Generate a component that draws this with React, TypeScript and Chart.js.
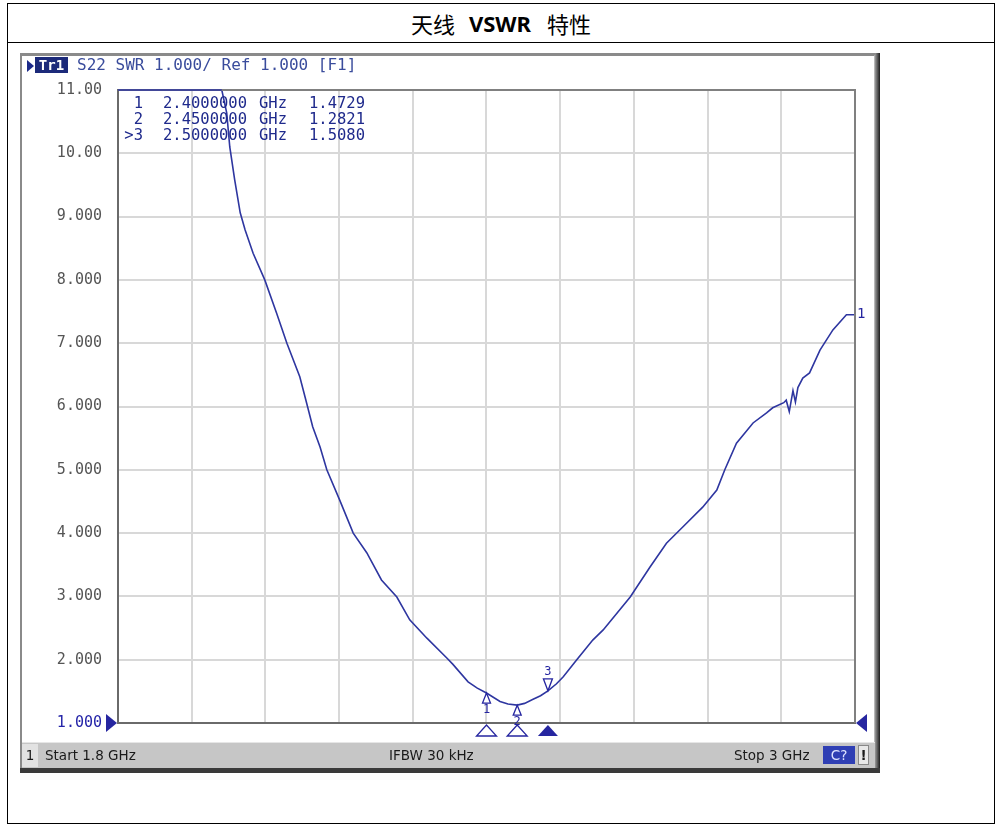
import { useEffect, useRef } from 'react'
import { Chart, registerables } from 'chart.js'

Chart.register(...registerables)

// S22 SWR trace (values above 11 are pinned at the top edge)
const freqGHz = [
  1.8, 1.9, 1.969, 1.977, 1.982, 1.99, 1.999, 2.007, 2.02, 2.039, 2.058, 2.075, 2.096, 2.107,
  2.117, 2.129, 2.14, 2.161, 2.183, 2.205, 2.229, 2.254, 2.275, 2.303, 2.335, 2.345, 2.37, 2.385,
  2.4, 2.422, 2.435, 2.45, 2.462, 2.475, 2.488, 2.5, 2.514, 2.525, 2.547, 2.573, 2.59, 2.634,
  2.666, 2.693, 2.72, 2.752, 2.775, 2.788, 2.807, 2.834, 2.856, 2.866, 2.884, 2.888, 2.893,
  2.899, 2.903, 2.907, 2.915, 2.926, 2.943, 2.964, 2.986, 3.0,
]
const swr = [
  11, 11, 11, 10.64, 10.1, 9.58, 9.06, 8.79, 8.42, 8.0, 7.48, 7.0, 6.47, 6.06,
  5.68, 5.36, 5.0, 4.52, 4.0, 3.69, 3.26, 2.99, 2.63, 2.34, 2.03, 1.93, 1.65, 1.55,
  1.4729, 1.34, 1.3, 1.2821, 1.31, 1.37, 1.43, 1.508, 1.62, 1.73, 2.0, 2.31, 2.47, 2.99,
  3.46, 3.84, 4.1, 4.41, 4.68, 5.0, 5.42, 5.74, 5.9, 5.98, 6.06, 6.1, 5.92,
  6.25, 6.07, 6.3, 6.45, 6.53, 6.89, 7.21, 7.45, 7.45,
]

const markerIds = ['1', '2', '3']
const markerFreqs = [2.4, 2.45, 2.5]
const markerSwr = [1.4729, 1.2821, 1.508]
const activeMarker = 2

const yTickValues = [1, 2, 3, 4, 5, 6, 7, 8, 9, 10, 11]
const yTickLabels = ['1.000', '2.000', '3.000', '4.000', '5.000', '6.000', '7.000', '8.000', '9.000', '10.00', '11.00']
const refValue = 1

const TRACE = '#2e36a0'
const MARK = '#2626a0'
const MONO = '"DejaVu Sans Mono", monospace'

const tri = (ctx: CanvasRenderingContext2D, x: number, y: number, w: number, h: number, dir: 'up' | 'down' | 'left' | 'right', fill: boolean) => {
  ctx.beginPath()
  if (dir === 'up') { ctx.moveTo(x, y); ctx.lineTo(x - w / 2, y + h); ctx.lineTo(x + w / 2, y + h) }
  if (dir === 'down') { ctx.moveTo(x, y); ctx.lineTo(x - w / 2, y - h); ctx.lineTo(x + w / 2, y - h) }
  if (dir === 'right') { ctx.moveTo(x, y); ctx.lineTo(x - w, y - h / 2); ctx.lineTo(x - w, y + h / 2) }
  if (dir === 'left') { ctx.moveTo(x, y); ctx.lineTo(x + w, y - h / 2); ctx.lineTo(x + w, y + h / 2) }
  ctx.closePath()
  if (fill) ctx.fill()
  else { ctx.fillStyle = '#fff'; ctx.fill(); ctx.stroke(); ctx.fillStyle = MARK }
}

const vnaOverlay = {
  id: 'vnaOverlay',
  afterDraw(chart: any) {
    const { ctx, chartArea: a, scales } = chart
    const xs = scales.x
    const ys = scales.y
    ctx.save()
    // top and right frame
    ctx.strokeStyle = '#808080'
    ctx.lineWidth = 2
    ctx.beginPath()
    ctx.moveTo(a.left, a.top); ctx.lineTo(a.right, a.top); ctx.lineTo(a.right, a.bottom)
    ctx.stroke()
    // pinned part of trace on top edge drawn again over frame
    ctx.strokeStyle = TRACE
    ctx.lineWidth = 1.6
    ctx.beginPath()
    let started = false
    freqGHz.forEach((f, i) => {
      if (swr[i] >= 11) {
        const px = xs.getPixelForValue(f)
        if (!started) { ctx.moveTo(px, a.top); started = true } else ctx.lineTo(px, a.top)
      }
    })
    ctx.stroke()

    ctx.fillStyle = MARK
    ctx.strokeStyle = MARK
    ctx.lineWidth = 1.3
    // reference level arrows
    const yr = ys.getPixelForValue(refValue)
    tri(ctx, a.left - 1, yr, 11, 18, 'right', true)
    tri(ctx, a.right + 1, yr, 11, 18, 'left', true)
    // trace number at right end
    ctx.font = `14px ${MONO}`
    ctx.textBaseline = 'middle'
    ctx.textAlign = 'left'
    ctx.fillText('1', a.right + 2, ys.getPixelForValue(swr[swr.length - 1]))

    // markers
    ctx.font = `12px ${MONO}`
    ctx.textAlign = 'center'
    markerFreqs.forEach((f, i) => {
      const px = xs.getPixelForValue(f)
      const py = ys.getPixelForValue(markerSwr[i])
      if (i === activeMarker) {
        tri(ctx, px, py, 9, 12, 'down', false)
        ctx.fillText(markerIds[i], px, py - 19)
        tri(ctx, px, a.bottom + 2, 20, 11, 'up', true)
      } else {
        tri(ctx, px, py, 8, 10, 'up', false)
        ctx.fillText(markerIds[i], px, py + 17)
        tri(ctx, px, a.bottom + 2, 20, 11, 'up', false)
      }
    })
    ctx.restore()
  },
}

function VswrChart() {
  const canvasRef = useRef<HTMLCanvasElement>(null)
  const chartRef = useRef<Chart | null>(null)

  useEffect(() => {
    if (!canvasRef.current) return
    chartRef.current?.destroy()

    chartRef.current = new Chart(canvasRef.current, {
      type: 'line',
      data: {
        datasets: [{
          data: freqGHz.map((f, i) => ({ x: f, y: swr[i] })),
          borderColor: TRACE,
          borderWidth: 1.6,
          pointRadius: 0,
          tension: 0,
          fill: false,
        }],
      },
      options: {
        animation: false,
        responsive: false,
        maintainAspectRatio: false,
        layout: { padding: { left: 0, top: 34, right: 17, bottom: 26 } },
        plugins: { legend: { display: false }, tooltip: { enabled: false } },
        scales: {
          x: {
            type: 'linear',
            min: 1.8,
            max: 3.0,
            ticks: { display: false, count: 11 },
            grid: { color: '#d8d8d8', lineWidth: 2, drawTicks: false },
            border: { color: '#6a6a6a', width: 2 },
            afterFit: (s: any) => { s.height = 0 },
          },
          y: {
            min: 1,
            max: 11,
            afterBuildTicks: (s: any) => { s.ticks = yTickValues.map((v) => ({ value: v })) },
            ticks: {
              padding: 16,
              font: { family: 'DejaVu Sans Mono', size: 15 },
              color: (c: any) => (c.tick && c.tick.value === refValue ? '#2424a8' : '#555555'),
              callback: (v: any) => yTickLabels[yTickValues.indexOf(Number(v))] ?? '',
            },
            grid: { color: '#d8d8d8', lineWidth: 2, drawTicks: false },
            border: { color: '#6a6a6a', width: 2 },
            afterFit: (s: any) => { s.width = 96 },
          },
        },
      },
      plugins: [vnaOverlay],
    })

    return () => { chartRef.current?.destroy() }
  }, [])

  return <canvas ref={canvasRef} width={850} height={693} style={{ position: 'absolute', left: 22, top: 56, width: 850, height: 693 }} />
}

const abs = (s: any) => ({ position: 'absolute' as const, ...s })

export default function App() {
  const rows = markerIds.map((id, i) => ({
    id: (i === activeMarker ? '>' : '') + id,
    f: markerFreqs[i].toFixed(7),
    v: markerSwr[i].toFixed(4),
  }))

  return (
    <div style={abs({ left: 0, top: 0, width: 1006, height: 835, background: '#fff', fontFamily: '"DejaVu Sans", sans-serif' })}>
      {/* table frame */}
      <div style={abs({ left: 7, top: 3, width: 988, height: 821, border: '1.5px solid #000', boxSizing: 'border-box' })} />
      <div style={abs({ left: 7, top: 41.5, width: 988, height: 1.5, background: '#000' })} />
      <div style={abs({ left: 7, top: 3, width: 988, height: 39, display: 'flex', alignItems: 'center', justifyContent: 'center', fontSize: 22, color: '#000' })}>
        <span style={{ fontFamily: '"Noto Sans CJK SC"' }}>天线</span>
        <span style={{ fontFamily: '"Noto Sans", sans-serif', fontWeight: 700, margin: '0 16px 0 14px' }}>VSWR</span>
        <span style={{ fontFamily: '"Noto Sans CJK SC"' }}>特性</span>
      </div>

      {/* analyzer screen */}
      <div style={abs({ left: 20, top: 53, width: 856, height: 718, background: '#fff', borderTop: '3px solid #8a8a8a', borderLeft: '2px solid #8a8a8a', borderRight: '2px solid #b8b8b8', boxSizing: 'border-box' })} />
      <div style={abs({ left: 875, top: 53, width: 5, height: 720, background: 'linear-gradient(90deg, #9a9a9a, #1a1a1a)' })} />
      <VswrChart />

      {/* header */}
      <div style={abs({ left: 27, top: 60, width: 0, height: 0, borderTop: '6px solid transparent', borderBottom: '6px solid transparent', borderLeft: '7px solid #1c2a8a' })} />
      <div style={abs({ left: 35, top: 57, width: 33, height: 16, background: '#1c2a7a', color: '#fff', font: `bold 14px ${MONO}`, lineHeight: '16px', textAlign: 'center' })}>Tr1</div>
      <div style={abs({ left: 77, top: 56, font: `16px ${MONO}`, lineHeight: '18px', color: '#3a4c9c', whiteSpace: 'pre' })}>S22 SWR 1.000/ Ref 1.000 [F1]</div>

      {/* marker table */}
      {rows.map((r, i) => (
        <div key={r.id} style={abs({ left: 0, top: 95 + i * 15.8, font: `15.5px ${MONO}`, lineHeight: '16px', color: '#1f2a8c', whiteSpace: 'pre' })}>
          <span style={abs({ left: 120, width: 23, textAlign: 'right' })}>{r.id}</span>
          <span style={abs({ left: 163 })}>{r.f}</span>
          <span style={abs({ left: 259 })}>GHz</span>
          <span style={abs({ left: 309 })}>{r.v}</span>
        </div>
      ))}

      {/* footer */}
      <div style={abs({ left: 22, top: 742, width: 853, height: 26, background: '#c6c6c6', borderTop: '1px solid #e6e6e6', boxSizing: 'border-box', fontSize: 13.5, color: '#1a1a1a', lineHeight: '25px' })}>
        <span style={abs({ left: 0, top: 1, width: 16, height: 23, background: '#e2e2e2', textAlign: 'center', lineHeight: '23px' })}>1</span>
        <span style={abs({ left: 23 })}>Start 1.8 GHz</span>
        <span style={abs({ left: 367 })}>IFBW 30 kHz</span>
        <span style={abs({ left: 712 })}>Stop 3 GHz</span>
        <span style={abs({ left: 801, top: 3, width: 32, height: 18, background: '#2f3fb4', color: '#dfe4ff', textAlign: 'center', lineHeight: '18px' })}>C?</span>
        <span style={abs({ left: 836, top: 2, width: 11, height: 20, background: '#e8e8e8', border: '1px solid #888', boxSizing: 'border-box', textAlign: 'center', lineHeight: '18px', fontWeight: 700 })}>!</span>
      </div>
      <div style={abs({ left: 20, top: 768, width: 860, height: 5, background: '#3a3a3a' })} />
    </div>
  )
}
